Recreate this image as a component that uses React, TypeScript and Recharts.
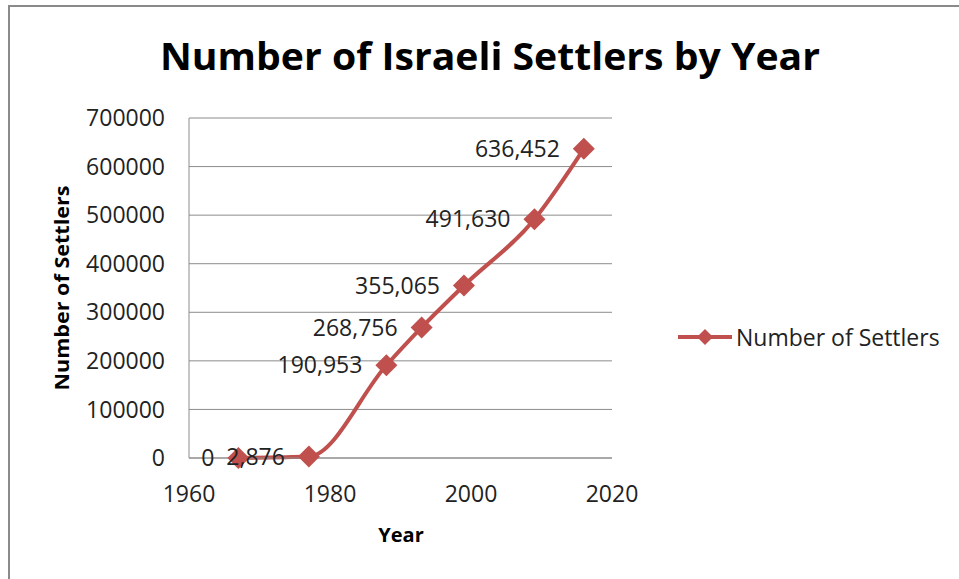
import React from 'react'
import { CartesianGrid, Legend, LabelList, Line, LineChart, XAxis, YAxis } from 'recharts'

const years = [1967, 1977, 1988, 1993, 1999, 2009, 2016]
const settlers = [0, 2876, 190953, 268756, 355065, 491630, 636452]
const xTicks = [1960, 1980, 2000, 2020]
const yTicks = [0, 100000, 200000, 300000, 400000, 500000, 600000, 700000]

const data = years.map((year, i) => ({ year, settlers: settlers[i] }))

const RED = '#C0504D'
const FONT = '"Open Sans", sans-serif'

const Diamond = (props: any) => {
  const { cx, cy } = props
  if (cx == null || cy == null) return null
  const r = 11
  return (
    <polygon
      points={`${cx},${cy - r} ${cx + r},${cy} ${cx},${cy + r} ${cx - r},${cy}`}
      fill={RED}
    />
  )
}

const LegendContent = () => (
  <div style={{ display: 'flex', alignItems: 'center', fontFamily: FONT, fontSize: 23, color: '#222' }}>
    <svg width={58} height={24} style={{ marginRight: 2 }}>
      <line x1={2} y1={12} x2={56} y2={12} stroke={RED} strokeWidth={4} />
      <polygon points="29,4 37,12 29,20 21,12" fill={RED} />
    </svg>
    <span>Number of Settlers</span>
  </div>
)

export default function App() {
  return (
    <div style={{ position: 'absolute', left: 0, top: 0, width: 959, height: 579, background: '#fff' }}>
      <div
        style={{
          position: 'absolute',
          left: 8,
          top: 5,
          width: 959,
          height: 600,
          borderLeft: '2px solid #8a8a8a',
          borderTop: '2px solid #8a8a8a',
          boxSizing: 'border-box',
        }}
      />
      <LineChart
        width={959}
        height={579}
        data={data}
        margin={{ top: 118, right: 347, bottom: 91, left: 109 }}
      >
        <CartesianGrid vertical={false} stroke="#8c8c8c" strokeWidth={1} />
        <XAxis
          dataKey="year"
          type="number"
          domain={[1960, 2020]}
          ticks={xTicks}
          height={30}
          tickSize={0}
          tickMargin={28}
          axisLine={{ stroke: '#8c8c8c' }}
          tick={{ fill: '#222', fontSize: 23, fontFamily: FONT }}
        />
        <YAxis
          type="number"
          domain={[0, 700000]}
          ticks={yTicks}
          width={80}
          tickSize={0}
          tickMargin={24}
          axisLine={{ stroke: '#8c8c8c' }}
          tick={{ fill: '#222', fontSize: 23, fontFamily: FONT }}
        />
        <Legend
          content={<LegendContent />}
          wrapperStyle={{ position: 'absolute', left: 676, top: 321, width: 283, height: 0, overflow: 'visible' }}
        />
        <Line
          type="monotone"
          dataKey="settlers"
          name="Number of Settlers"
          stroke={RED}
          strokeWidth={4}
          dot={<Diamond />}
          activeDot={false}
          isAnimationActive={false}
        >
          <LabelList
            dataKey="settlers"
            position="left"
            offset={24}
            formatter={(v: any) => Number(v).toLocaleString('en-US')}
            style={{ fill: '#222', fontSize: 23, fontFamily: FONT }}
          />
        </Line>
      </LineChart>
      <svg
        width={959}
        height={579}
        style={{ position: 'absolute', left: 0, top: 0, pointerEvents: 'none' }}
      >
        <text
          x={160}
          y={70}
          fontFamily={FONT}
          fontWeight={700}
          fontSize={38}
          fill="#000"
          textLength={660}
          lengthAdjust="spacingAndGlyphs"
        >
          Number of Israeli Settlers by Year
        </text>
        <text
          x={0}
          y={0}
          transform="translate(69 288) rotate(-90)"
          textAnchor="middle"
          fontFamily={FONT}
          fontWeight={700}
          fontSize={19}
          fill="#000"
          textLength={205}
          lengthAdjust="spacingAndGlyphs"
        >
          Number of Settlers
        </text>
        <text
          x={401}
          y={542}
          textAnchor="middle"
          fontFamily={FONT}
          fontWeight={700}
          fontSize={20}
          fill="#000"
        >
          Year
        </text>
      </svg>
    </div>
  )
}
